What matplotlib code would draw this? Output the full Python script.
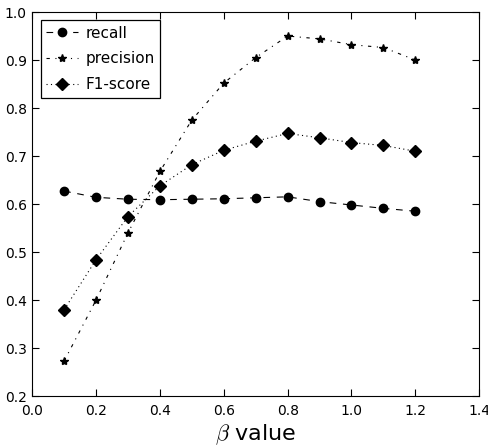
import matplotlib
matplotlib.use("Agg")
import matplotlib.pyplot as plt

plt.rcParams["mathtext.fontset"] = "cm"

beta = [0.1, 0.2, 0.3, 0.4, 0.5, 0.6, 0.7, 0.8, 0.9, 1.0, 1.1, 1.2]
recall = [0.627, 0.614, 0.610, 0.609, 0.610, 0.611, 0.613, 0.615, 0.605, 0.598, 0.591, 0.585]
precision = [0.273, 0.400, 0.540, 0.668, 0.775, 0.852, 0.905, 0.950, 0.944, 0.932, 0.926, 0.900]
f1 = [0.380, 0.484, 0.574, 0.638, 0.682, 0.712, 0.731, 0.747, 0.738, 0.728, 0.722, 0.710]

fig, ax = plt.subplots(figsize=(4.88, 4.45), dpi=100)
fig.subplots_adjust(left=0.066, right=0.982, top=0.973, bottom=0.11)

# old-style dash patterns
ax.plot(beta, recall, color="k", linestyle=(0, (6, 6)), marker="o", markersize=6,
        linewidth=0.8, label="recall")
ax.plot(beta, precision, color="k", linestyle=(0, (3, 5, 1, 5)), marker="*", markersize=6,
        linewidth=0.8, label="precision")
ax.plot(beta, f1, color="k", linestyle=(0, (1, 3)), marker="D", markersize=6,
        linewidth=0.8, label="F1-score")

ax.set_xlim(0.0, 1.4)
ax.set_ylim(0.2, 1.0)
ax.set_xticks([0.0, 0.2, 0.4, 0.6, 0.8, 1.0, 1.2, 1.4])
ax.set_yticks([0.2, 0.3, 0.4, 0.5, 0.6, 0.7, 0.8, 0.9, 1.0])
ax.tick_params(direction="in", top=True, right=True, labelsize=10, length=5)
ax.tick_params(axis="x", pad=6)
ax.tick_params(axis="y", pad=4)
ax.set_xlabel(r"$\beta$ value", fontsize=16, labelpad=3)

leg = ax.legend(loc="upper left", fontsize=11, fancybox=False, framealpha=1,
                edgecolor="k", numpoints=1, handlelength=2.1, handletextpad=0.5,
                borderpad=0.35, labelspacing=0.7, borderaxespad=0.55)
leg.get_frame().set_linewidth(0.9)

plt.savefig("out.png", dpi=100)
